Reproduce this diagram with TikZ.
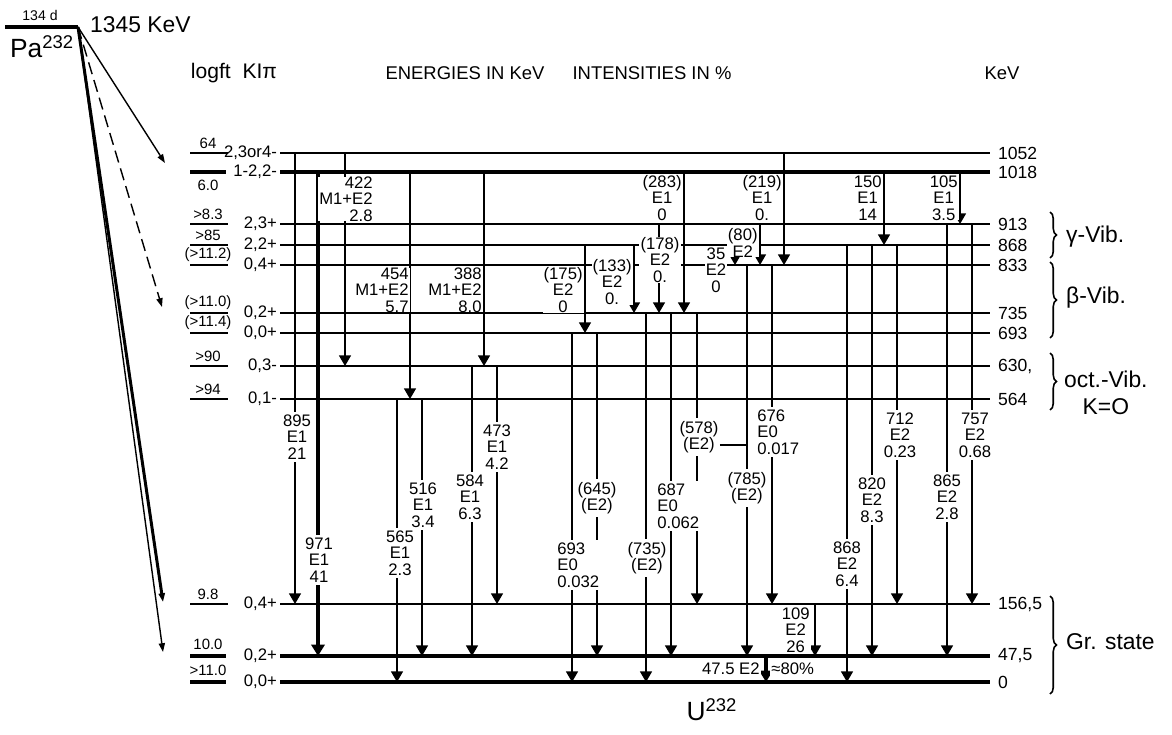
\documentclass[tikz,border=0pt]{standalone}
\usepackage{fontspec}
\setmainfont{Liberation Sans}
\usetikzlibrary{arrows.meta, decorations.pathreplacing}

% level heights (pixel rows of the scheme)
\newcommand{\lv}[1]{\csname lv-#1\endcsname}
\foreach \e/\y in {1052/153, 1018/172, 913/224, 868/245, 833/265, 735/313, 693/333,
                   630/366, 564/399, 156/604, 47/656, 0/682} {
    \expandafter\xdef\csname lv-\e\endcsname{\y}
}
\newcommand{\lblfont}{\fontsize{9.5}{9.4}\selectfont}

\begin{document}
\begin{tikzpicture}[
    x=0.02cm, y=-0.02cm,
    lvl/.style={line width=0.85pt},
    lvlthick/.style={line width=2.4pt},
    stub/.style={line width=0.85pt},
    gam/.style={line width=0.7pt, -{Triangle[length=6pt, width=6.8pt]}},
    gamthick/.style={line width=2.3pt, -{Triangle[length=6.5pt, width=7.5pt]}},
    beta/.style={line width=0.8pt, -{Triangle[length=5pt, width=3.5pt]}},
    tl/.style={font=\lblfont, align=center, fill=white, inner xsep=0.6pt, inner ysep=1.5pt},
    tlup/.style={tl, inner ysep=0pt},
    spin/.style={font=\fontsize{9.5}{10}\selectfont, anchor=east, inner sep=1pt},
    logft/.style={font=\fontsize{8.5}{9}\selectfont, inner sep=0.5pt},
    energy/.style={font=\fontsize{10}{11}\selectfont, anchor=west, inner sep=1pt},
    head/.style={font=\fontsize{10.5}{12}\selectfont},
    band/.style={font=\fontsize{13}{15}\selectfont, anchor=west, align=center},
    brc/.style={decorate, decoration={brace, amplitude=0.13cm}, line width=0.9pt}
]
\useasboundingbox (0,0) rectangle (1172,734);

% parent level
\coordinate (pa) at (78,27);
\draw[line width=2pt] (5,27) -- (pa);
\node[font=\fontsize{8}{9}\selectfont] (half) at (40,15) {134 d};
\node[font=\fontsize{15}{16}\selectfont] (parent) at (42,47) {Pa\textsuperscript{232}};
\node[font=\fontsize{13}{14}\selectfont, anchor=west] (qval) at (84,25) {1345 KeV};

% headers
\node[head, font=\fontsize{12}{13}\selectfont] (hlog) at (234,73) {logft\ \ KIπ};
\node[head] (hen) at (465,73) {ENERGIES IN KeV};
\node[head] (hint) at (652,73) {INTENSITIES IN \%};
\node[head] (hkev) at (1002,73) {KeV};

% thin levels
\foreach \e/\lf/\kp/\lab in {1052/{64}/{2,3or4-}/{1052}, 913/{>8.3}/{2,3+}/{913},
        833/{(>11.2)}/{0,4+}/{833}, 735/{(>11.0)}/{0,2+}/{735},
        693/{(>11.4)}/{0,0+}/{693}, 630/{>90}/{0,3-}/{630,}, 564/{>94}/{0,1-}/{564},
        156/{9.8}/{0,4+}/{156,5}} {
    \draw[lvl] (280,\lv{\e}) -- (990,\lv{\e});
    \draw[stub] (190,\lv{\e}) -- (228,\lv{\e});
    \node[logft] (lf\e) at (208,\lv{\e}-10) {\lf};
    \node[spin] (kp\e) at (279,\lv{\e}) {\kp};
    \node[energy] (en\e) at (996,\lv{\e}) {\lab};
}
% 868 level, a little heavier
\draw[line width=1.3pt] (280,\lv{868}) -- (990,\lv{868});
\draw[stub, line width=1.3pt] (190,\lv{868}) -- (228,\lv{868});
\node[logft] (lf868) at (208,\lv{868}-10) {>85};
\node[spin] (kp868) at (279,\lv{868}) {2,2+};
\node[energy] (en868) at (996,\lv{868}) {868};

% thick levels
\foreach \e/\lf/\kp/\lab in {1018/{6.0}/{1-2,2-}/{1018}, 47/{10.0}/{0,2+}/{47,5},
        0/{>11.0}/{0,0+}/{0}} {
    \draw[lvlthick] (280,\lv{\e}) -- (990,\lv{\e});
    \draw[lvlthick] (190,\lv{\e}) -- (226,\lv{\e});
    \node[spin] (kp\e) at (279,\lv{\e}) {\kp};
    \node[energy] (en\e) at (996,\lv{\e}) {\lab};
}
\node[logft] (lf1018) at (208,\lv{1018}+13) {6.0};
\node[logft] (lf47) at (208,\lv{47}-12) {10.0};
\node[logft] (lf0) at (208,\lv{0}-12) {>11.0};

% beta feeding
\coordinate (b1) at (165,163);
\coordinate (b2) at (162,307);
\coordinate (b3) at (163,602);
\coordinate (b4) at (163,652);
\draw[beta] (pa) -- (b1);
\draw[beta, dashed, dash pattern=on 7pt off 3.5pt] (pa) -- (b2);
\draw[beta, line width=1.7pt] (pa) -- (b3);
\draw[beta] (pa) -- (b4);

% gamma transitions: x / from / to
\foreach \x/\a/\b in {295/1052/156, 345/1052/630, 784/1052/833,
        410/1018/564, 484/1018/630, 684/1018/735, 884/1018/868, 960/1018/913,
        659/913/735, 760/913/833, 947/913/47, 972/913/156,
        585/868/693, 634/868/735, 735/868/833, 847/868/0, 872/868/47, 897/868/156,
        747/833/47, 772/833/156,
        646/735/0, 671/735/47, 697/735/156,
        572/693/0, 597/693/47,
        472/630/47, 497/630/156,
        397/564/0, 422/564/47,
        815/156/47} {
    \draw[gam] (\x,\lv{\a}) -- (\x,\lv{\b});
}
\draw[gamthick] (318,\lv{1018}) -- (318,\lv{47});
\draw[gamthick] (766,\lv{47}) -- (766,\lv{0});

% labels on the lower transitions
\node[tl] (t895) at (297,437) {895\\E1\\21};
\node[tl] (t971) at (319,560) {971\\E1\\41};
\node[tl] (t565) at (400,553) {565\\E1\\2.3};
\node[tl] (t516) at (423,505) {516\\E1\\3.4};
\node[tl] (t584) at (470,497) {584\\E1\\6.3};
\node[tl] (t473) at (497,447) {473\\E1\\4.2};
\node[tl, align=left, anchor=west] (t693) at (556,565) {693\\E0\\0.032};
\node[tl] (t645) at (597,498) {(645)\\(E2)};
\node[tl] (t735) at (647,558) {(735)\\(E2)};
\node[tl, align=left, anchor=west] (t687) at (656,506) {687\\E0\\0.062};
\node[tl] (t578) at (699,437) {(578)\\(E2)};
\node[tl] (t785) at (747,488) {(785)\\(E2)};
\node[tl, align=left, anchor=west] (t676) at (756,432) {676\\E0\\0.017};
\node[tl] (t868) at (847,564) {868\\E2\\6.4};
\node[tl] (t820) at (872,500) {820\\E2\\8.3};
\node[tl] (t712) at (900,435) {712\\E2\\0.23};
\node[tl] (t865) at (947,497) {865\\E2\\2.8};
\node[tl] (t757) at (975,435) {757\\E2\\0.68};
\coordinate (c578) at (747,445);
\draw[line width=1.5pt] (t578.east |- c578) -- (c578);

% labels on the upper transitions
\node[tlup, align=right, anchor=east] (t422) at (374,199) {422\\M1+E2\\2.8};
\node[tlup, align=right, anchor=east] (t454) at (410,290) {454\\M1+E2\\5.7};
\node[tlup, align=right, anchor=east] (t388) at (483,290) {388\\M1+E2\\8.0};
\node[tlup, anchor=east] (t175) at (584,290) {(175)\\E2\\0};
\node[tlup, anchor=east] (t133) at (633,282) {(133)\\E2\\0.};
\node[tlup] (t178) at (660,260) {(178)\\E2\\0.};
\node[tlup, anchor=east] (t283) at (683,198) {(283)\\E1\\0};
\node[tlup, anchor=east] (t219) at (783,198) {(219)\\E1\\0.};
\node[tlup, anchor=east] (t150) at (883,198) {150\\E1\\14};
\node[tlup, anchor=east] (t105) at (959,198) {105\\E1\\3.5};
\node[tlup] (t35) at (716,270) {35\\E2\\0};
\node[tlup, anchor=east] (t80) at (759,243) {(80)\\E2};

% ground band transitions
\node[tlup, anchor=east] (t109) at (811,630) {109\\E2\\26};
\node[tl, anchor=east, inner ysep=0.5pt] (t47a) at (761,669) {47.5 E2};
\node[tl, anchor=west, inner ysep=0.5pt] (t47b) at (770,669) {≈80\%};

% band braces
\draw[brc] (1050,212) -- (1050,258);
\node[band] (gvib) at (1060,237) {γ-Vib.};
\draw[brc] (1050,262) -- (1050,338);
\node[band] (bvib) at (1060,298) {β-Vib.};
\draw[brc] (1050,353) -- (1050,410);
\node[band] (ovib) at (1058,393) {oct.-Vib.\\K=O};
\draw[brc] (1050,596) -- (1050,694);
\node[band] (gr) at (1060,642) {Gr. state};

% daughter
\node[font=\fontsize{15}{16}\selectfont] (daughter) at (712,710) {U\textsuperscript{232}};

\end{tikzpicture}
\end{document}
